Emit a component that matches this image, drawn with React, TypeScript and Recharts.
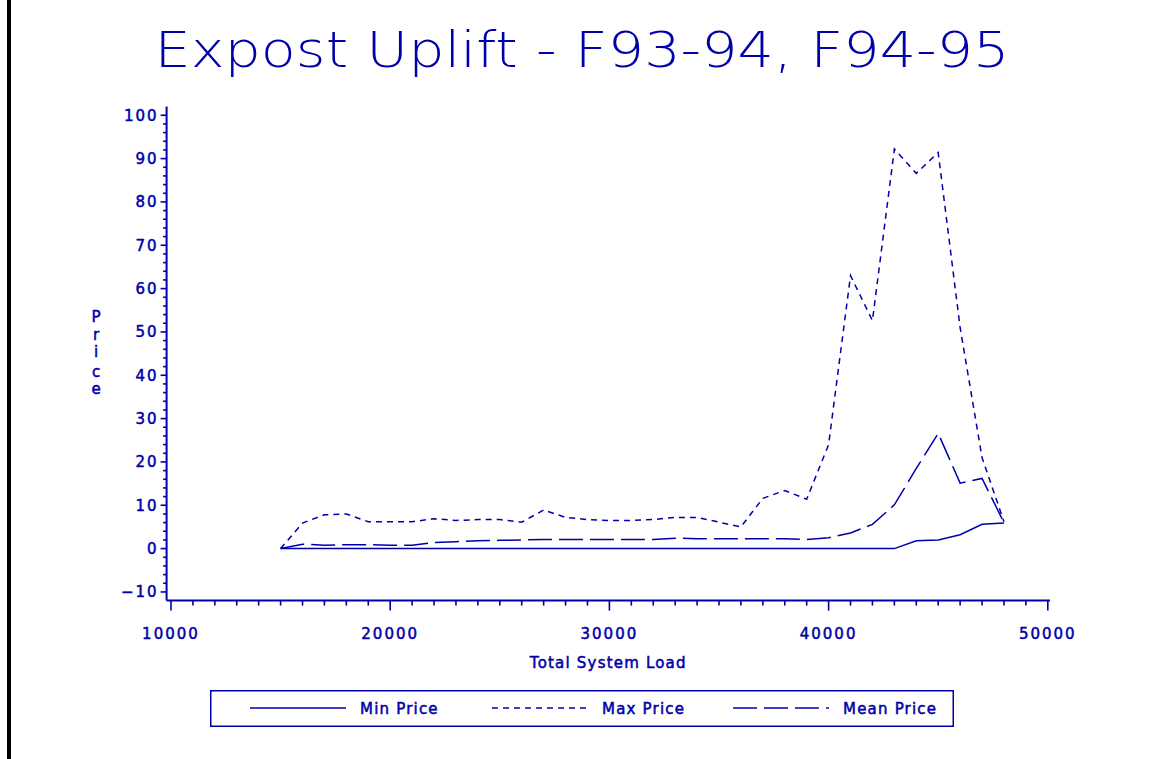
import React from "react";
import { Legend, Line, LineChart, XAxis, YAxis } from "recharts";

const loads = [
  15000, 16000, 17000, 18000, 19000, 20000, 21000, 22000, 23000, 24000, 25000,
  26000, 27000, 28000, 29000, 30000, 31000, 32000, 33000, 34000, 35000, 36000,
  37000, 38000, 39000, 40000, 41000, 42000, 43000, 44000, 45000, 46000, 47000,
  48000,
];
const minPrice = [
  0, 0, 0, 0, 0, 0, 0, 0, 0, 0, 0, 0, 0, 0, 0, 0, 0, 0, 0, 0, 0, 0, 0, 0, 0, 0,
  0, 0, 0, 1.8, 2.0, 3.2, 5.6, 5.9,
];
const maxPrice = [
  0, 5.9, 7.8, 8.0, 6.2, 6.2, 6.2, 6.9, 6.5, 6.7, 6.7, 6.1, 8.9, 7.2, 6.7, 6.5,
  6.5, 6.7, 7.2, 7.2, 6.1, 5.0, 11.6, 13.4, 11.4, 24.0, 63.0, 52.6, 92.2, 86.6,
  91.4, 51.0, 21.0, 6.2,
];
const meanPrice = [
  0, 1.0, 0.8, 0.9, 0.9, 0.8, 0.8, 1.4, 1.6, 1.8, 1.9, 2.0, 2.1, 2.1, 2.1, 2.1,
  2.1, 2.1, 2.4, 2.3, 2.3, 2.3, 2.3, 2.3, 2.1, 2.5, 3.6, 5.6, 10.1, 18.5, 26.6,
  15.1, 16.2, 6.0,
];

const xMajor = [10000, 20000, 30000, 40000, 50000];
const yMajor = [-10, 0, 10, 20, 30, 40, 50, 60, 70, 80, 90, 100];

const series = [
  { key: "min", name: "Min Price", dash: undefined as string | undefined },
  { key: "max", name: "Max Price", dash: "6 5" },
  { key: "mean", name: "Mean Price", dash: "24 7" },
];

const rows = loads.map((load, i) => ({
  load,
  min: minPrice[i],
  max: maxPrice[i],
  mean: meanPrice[i],
}));

// minor ticks: every 1000 on x, every 2 on y
const xTicks: number[] = [];
for (let v = 10000; v <= 50000; v += 1000) xTicks.push(v);
const yTicks: number[] = [];
for (let v = -10; v <= 100; v += 2) yTicks.push(v);

const BLUE = "#0000aa";
const FONT = '"DejaVu Sans", Verdana, sans-serif';
// thicken the thin glyphs a bit, like the plotter font
const txt = { fill: BLUE, stroke: BLUE, strokeWidth: 0.5, fontFamily: FONT, fontSize: 15 };

const XTick = (props: any) => {
  const { x, y, payload } = props;
  const major = xMajor.includes(payload.value);
  return (
    <g>
      <line x1={x} x2={x} y1={y} y2={y + (major ? 10 : 5)} stroke={BLUE} strokeWidth={1.6} />
      {major && (
        <text x={x} y={y + 38} textAnchor="middle" letterSpacing={2} {...txt}>
          {payload.value}
        </text>
      )}
    </g>
  );
};

const YTick = (props: any) => {
  const { x, y, payload } = props;
  const major = yMajor.includes(payload.value);
  return (
    <g>
      <line x1={x - (major ? 6 : 3.5)} x2={x} y1={y} y2={y} stroke={BLUE} strokeWidth={1.6} />
      {major && (
        <text x={x - 8} y={y + 5.5} textAnchor="end" letterSpacing={2} {...txt}>
          {payload.value < 0 ? "\u2212" + Math.abs(payload.value) : payload.value}
        </text>
      )}
    </g>
  );
};

const PriceLabel = () => {
  const letters = ["P", "r", "i", "c", "e"];
  const ys = [322, 340, 357, 377, 394];
  return (
    <text textAnchor="middle" {...txt}>
      {letters.map((ch, i) => (
        <tspan key={i} x={96} y={ys[i]}>
          {ch}
        </tspan>
      ))}
    </text>
  );
};

const renderLegend = () => {
  const lineX = [40, 282, 523];
  const textX = [150, 392, 633];
  return (
    <svg width={744} height={37} style={{ display: "block" }}>
      <rect x={0.75} y={0.75} width={742.5} height={35.5} fill="none" stroke={BLUE} strokeWidth={1.5} />
      {series.map((s, i) => (
        <g key={s.key}>
          <line
            x1={lineX[i]}
            x2={lineX[i] + 96}
            y1={18}
            y2={18}
            stroke={BLUE}
            strokeWidth={1.6}
            strokeDasharray={s.dash}
          />
          <text x={textX[i]} y={23.5} letterSpacing={1.2} {...txt}>
            {s.name}
          </text>
        </g>
      ))}
    </svg>
  );
};

export default function App() {
  return (
    <div
      style={{
        position: "fixed",
        left: 0,
        top: 0,
        width: 1156,
        height: 759,
        background: "#fff",
        overflow: "hidden",
      }}
    >
      <div style={{ position: "absolute", left: 7, top: 0, width: 4, height: 759, background: "#000" }} />
      <svg width={1156} height={100} style={{ position: "absolute", left: 0, top: 0 }}>
        <text
          x={582}
          y={67}
          textAnchor="middle"
          fill={BLUE}
          fontFamily='"DejaVu Sans ExtraLight", "DejaVu Sans", sans-serif'
          fontWeight={200}
          fontSize={50}
          textLength={855}
          lengthAdjust="spacingAndGlyphs"
        >
          Expost Uplift - F93-94, F94-95
        </text>
      </svg>
      <LineChart
        width={1156}
        height={759}
        data={rows}
        margin={{ top: 106.6, right: 106, bottom: 128.4, left: 106.6 }}
      >
        <XAxis
          type="number"
          dataKey="load"
          domain={[9800, 50100]}
          ticks={xTicks}
          interval={0}
          tickSize={0}
          tickMargin={0}
          tickLine={false}
          axisLine={{ stroke: BLUE, strokeWidth: 2 }}
          tick={<XTick />}
          height={30}
          label={{
            value: "Total System Load",
            position: "bottom",
            offset: 27,
            ...txt,
            letterSpacing: 1.2,
          }}
        />
        <YAxis
          type="number"
          domain={[-12, 102]}
          ticks={yTicks}
          interval={0}
          tickSize={0}
          tickMargin={0}
          tickLine={false}
          axisLine={{ stroke: BLUE, strokeWidth: 2 }}
          tick={<YTick />}
          width={60}
          label={<PriceLabel />}
        />
        <Legend
          layout="vertical"
          align="center"
          verticalAlign="middle"
          width={744}
          height={37}
          wrapperStyle={{ left: 210, top: 690, width: 744, height: 37 }}
          content={renderLegend}
        />
        {series.map((s) => (
          <Line
            key={s.key}
            type="linear"
            dataKey={s.key}
            name={s.name}
            stroke={BLUE}
            strokeWidth={1.5}
            strokeDasharray={s.dash}
            dot={false}
            activeDot={false}
            isAnimationActive={false}
          />
        ))}
      </LineChart>
    </div>
  );
}
